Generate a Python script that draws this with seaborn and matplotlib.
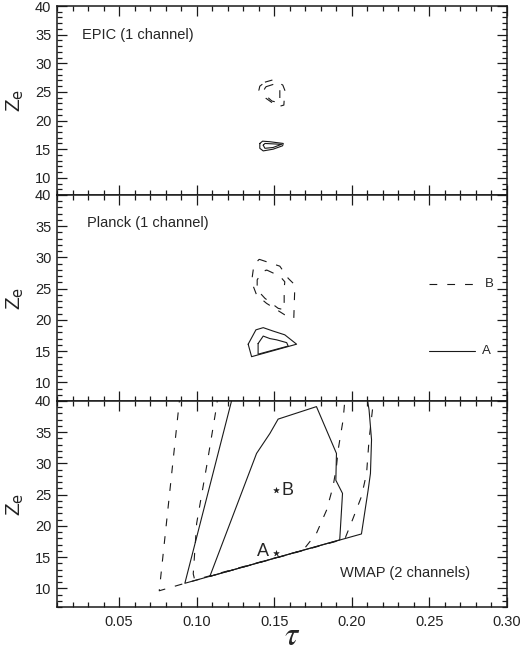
import seaborn as sns
import pandas as pd
import numpy as np
import matplotlib.pyplot as plt
from matplotlib.ticker import MultipleLocator

# contour polygons (tau, z_e)
epic_a_outer_tau = [0.1407, 0.1425, 0.1472, 0.1558, 0.1554, 0.1493, 0.1429, 0.1407, 0.1407]
epic_a_outer_z = [16.0, 16.4, 16.3, 16.0, 15.6, 15.0, 14.7, 15.15, 16.0]
epic_a_inner_tau = [0.1429, 0.1440, 0.1547, 0.1493, 0.1440, 0.1429]
epic_a_inner_z = [15.7, 16.0, 15.85, 15.3, 15.15, 15.7]
epic_b_outer_tau = [0.1440, 0.1491, 0.1555, 0.1568, 0.1562, 0.1523, 0.1446, 0.1401, 0.1407, 0.1440]
epic_b_outer_z = [26.7, 27.1, 26.2, 25.3, 22.7, 22.4, 23.9, 25.3, 26.0, 26.7]
epic_b_inner_tau = [0.1446, 0.1504, 0.1536, 0.1536, 0.1485, 0.1440, 0.1433, 0.1446]
epic_b_inner_z = [25.9, 26.4, 25.5, 23.1, 23.4, 24.5, 25.3, 25.9]

planck_a_outer_tau = [0.1332, 0.1382, 0.1429, 0.1493, 0.1568, 0.1644, 0.1354, 0.1332]
planck_a_outer_z = [16.1, 18.4, 18.75, 18.2, 17.6, 16.1, 14.1, 16.1]
planck_a_inner_tau = [0.1396, 0.1429, 0.1472, 0.1515, 0.1580, 0.1590, 0.1396, 0.1396]
planck_a_inner_z = [16.2, 17.4, 17.0, 16.8, 16.35, 15.8, 14.5, 16.2]
planck_b_outer_tau = [0.1403, 0.1536, 0.1590, 0.1633, 0.1626, 0.1568, 0.1450, 0.1386, 0.1354, 0.1369, 0.1403]
planck_b_outer_z = [29.7, 28.6, 26.65, 25.6, 20.25, 20.8, 22.65, 24.0, 26.1, 28.8, 29.7]
planck_b_inner_tau = [0.1450, 0.1536, 0.1568, 0.1564, 0.1564, 0.1525, 0.1440, 0.1390, 0.1390, 0.1418, 0.1450]
planck_b_inner_z = [28.0, 27.0, 26.1, 25.05, 21.6, 21.85, 23.45, 24.8, 26.4, 27.55, 28.0]

wmap_a_outer_tau = [0.1235, 0.0924, 0.1500, 0.2062, 0.2105, 0.2120, 0.2127, 0.2111, 0.2095]
wmap_a_outer_z = [41.0, 10.8, 14.8, 18.7, 25.7, 28.4, 33.8, 38.6, 41.0]
wmap_a_inner_tau = [0.1085, 0.1386, 0.1472, 0.1525, 0.1772, 0.1901, 0.1897, 0.1940, 0.1922, 0.1085]
wmap_a_inner_z = [11.9, 31.6, 34.8, 37.1, 39.1, 31.6, 27.3, 25.2, 17.75, 11.9]
wmap_b_outer_tau = [0.0893, 0.0759, 0.0924, 0.1955, 0.2008, 0.2062, 0.2095, 0.2111, 0.2133, 0.2148, 0.2155]
wmap_b_outer_z = [41.0, 9.6, 10.8, 17.9, 21.2, 24.7, 28.4, 33.8, 38.6, 40.0, 41.0]
wmap_b_inner_tau = [0.1138, 0.1128, 0.1064, 0.1000, 0.0978, 0.0985, 0.1005, 0.1686, 0.1772, 0.1837, 0.1879, 0.1901, 0.1912, 0.1944, 0.1958]
wmap_b_inner_z = [41.0, 39.1, 29.5, 20.4, 12.3, 11.6, 11.45, 16.1, 18.8, 22.5, 26.3, 29.5, 32.2, 37.0, 41.0]

model_names = ['A', 'B']
model_tau = [0.151, 0.151]
model_z = [15.6, 25.7]

panels = [
    ('EPIC (1 channel)', [(epic_a_outer_tau, epic_a_outer_z, '-'), (epic_a_inner_tau, epic_a_inner_z, '-'),
                          (epic_b_outer_tau, epic_b_outer_z, '--'), (epic_b_inner_tau, epic_b_inner_z, '--')]),
    ('Planck (1 channel)', [(planck_a_outer_tau, planck_a_outer_z, '-'), (planck_a_inner_tau, planck_a_inner_z, '-'),
                            (planck_b_outer_tau, planck_b_outer_z, '--'), (planck_b_inner_tau, planck_b_inner_z, '--')]),
    ('WMAP (2 channels)', [(wmap_a_outer_tau, wmap_a_outer_z, '-'), (wmap_a_inner_tau, wmap_a_inner_z, '-'),
                           (wmap_b_outer_tau, wmap_b_outer_z, '--'), (wmap_b_inner_tau, wmap_b_inner_z, '--')]),
]

sns.set_theme(style='ticks')
plt.rcParams['font.family'] = ['Liberation Sans', 'DejaVu Sans']

fig = plt.figure(figsize=(5.22, 6.57), dpi=100)
W, H = 522, 657
boxes = [(6, 195), (195, 401), (401, 607)]
dash = (0, (7, 9))

axes = []
for i, ((top, bot), (title, curves)) in enumerate(zip(boxes, panels)):
    ax = fig.add_axes([57 / W, (H - bot) / H, 450 / W, (bot - top) / H])
    for tau, z, ls in curves:
        df = pd.DataFrame({'tau': tau, 'z': z})
        sns.lineplot(data=df, x='tau', y='z', sort=False, estimator=None, color='k',
                     lw=0.8, linestyle=(dash if ls == '--' else '-'), ax=ax)
    ax.set_xlim(0.01, 0.30)
    ax.set_ylim(7, 40)
    ax.xaxis.set_major_locator(MultipleLocator(0.05))
    ax.xaxis.set_minor_locator(MultipleLocator(0.01))
    ax.yaxis.set_major_locator(MultipleLocator(5))
    ax.yaxis.set_minor_locator(MultipleLocator(1))
    ax.tick_params(which='both', direction='in', top=True, right=True, color='k', width=0.9)
    ax.tick_params(which='major', length=7, labelsize=10.5, labelcolor='#222222')
    ax.tick_params(which='minor', length=3.5)
    ax.tick_params(axis='x', pad=6)
    ax.tick_params(axis='y', pad=4)
    for s in ax.spines.values():
        s.set_linewidth(1.1)
        s.set_color('k')
    ax.set_ylabel('Z$_{\\mathrm{e}}$', fontsize=15, color='#222222')
    ax.yaxis.set_label_coords(-0.068, 0.5)
    if i < 2:
        ax.set_xlabel('')
        ax.tick_params(axis='x', labelbottom=False)
    axes.append(ax)

axes[0].text(0.055, 0.845, panels[0][0], transform=axes[0].transAxes, fontsize=10.5, va='center')
axes[1].text(0.066, 0.865, panels[1][0], transform=axes[1].transAxes, fontsize=10.5, va='center')
axes[2].text(0.629, 0.167, panels[2][0], transform=axes[2].transAxes, fontsize=10.5, va='center')

# legend marks in the Planck panel
leg = axes[1]
leg.plot([0.25, 0.2796], [25.7, 25.7], color='k', lw=0.8, linestyle=dash)
leg.plot([0.25, 0.2796], [15.05, 15.05], color='k', lw=0.8)
leg.text(0.2857, 25.7, 'B', fontsize=9.5, va='center')
leg.text(0.2838, 15.05, 'A', fontsize=9.5, va='center')

# model points in the WMAP panel
ax = axes[2]
sns.scatterplot(x=model_tau, y=model_z, marker='*', s=18, color='k', edgecolor='k', ax=ax)
ax.text(model_tau[1] + 0.0035, model_z[1], model_names[1], fontsize=13, va='center')
ax.text(model_tau[0] - 0.0045, model_z[0] + 0.25, model_names[0], fontsize=13, va='center', ha='right')
ax.set_xlabel(r'$\tau$', fontsize=24, math_fontfamily='stix')
ax.xaxis.set_label_coords(0.522, -0.145)
ax.xaxis.label.set_va('center')

fig.savefig('out.png', dpi=100)
